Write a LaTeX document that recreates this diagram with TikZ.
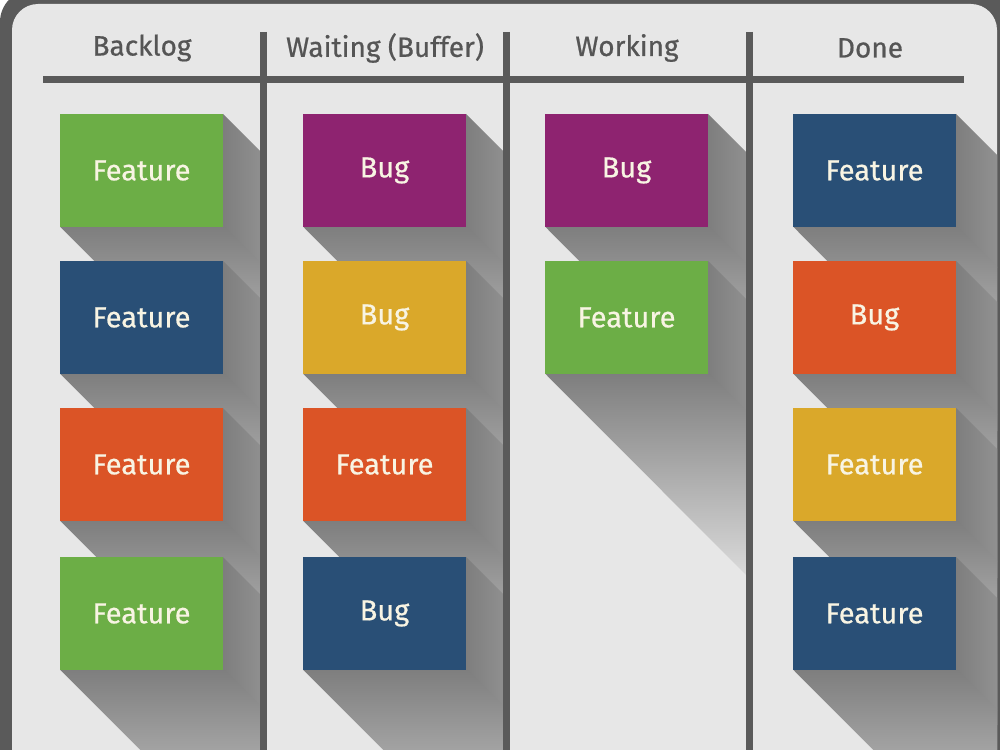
\documentclass[tikz,border=0pt]{standalone}
\usepackage{fontspec}
\setmainfont{Fira Sans}
\newfontfamily\cardfont[FakeBold=0.6]{Fira Sans}
\definecolor{bg}{HTML}{E7E7E7}
\definecolor{framec}{HTML}{5A5A5A}
\definecolor{headc}{HTML}{555555}
\definecolor{shA}{HTML}{7E7E7E}
\definecolor{kgreen}{HTML}{6CAE46}
\definecolor{kblue}{HTML}{294F76}
\definecolor{korange}{HTML}{DB5426}
\definecolor{kpurple}{HTML}{8E2370}
\definecolor{kyellow}{HTML}{DAA82A}
\definecolor{ktext}{HTML}{F8F4E3}
\tikzset{
  card/.style={rectangle, minimum width=163pt, minimum height=113pt, inner sep=0pt,
    text=ktext, font=\cardfont\fontsize{29}{29}\selectfont},
  header/.style={text=headc, font=\cardfont\fontsize{28}{28}\selectfont, inner sep=0pt},
  rule/.style={draw=framec, line width=7pt}
}
\newcommand\kcard[5]{%
  \shade[left color=shA, right color=bg] (#2+163,#3) -- (#2+163+230,#3+230) -- (#2+163+230,#3+113+230) -- (#2+163,#3+113) -- cycle;
  \shade[top color=shA, bottom color=bg] (#2,#3+112.5) -- (#2+164,#3+112.5) -- (#2+164+230,#3+113+230) -- (#2+230,#3+113+230) -- cycle;
  \node[card, fill=#4] (#1) at (#2+81.5,#3+56.5) {#5};
}
\begin{document}
\begin{tikzpicture}[x=1pt,y=-1pt]
\useasboundingbox (0,0) rectangle (1000,749);
\clip (0,0) rectangle (1000,749);
\fill[white] (0,0) rectangle (1000,749);
\fill[framec, rounded corners=32pt] (0,-10) rectangle (1012,800);
\fill[bg, rounded corners=26pt] (12,4) rectangle (997,800);
% column 1
\begin{scope}
\clip (12,83) rectangle (263.5,749);
\kcard{a1}{60}{114}{kgreen}{Feature}
\kcard{a2}{60}{261}{kblue}{Feature}
\kcard{a3}{60}{408}{korange}{Feature}
\kcard{a4}{60}{557}{kgreen}{Feature}
\end{scope}
% column 2
\begin{scope}
\clip (263.5,83) rectangle (506,749);
\kcard{b1}{303}{114}{kpurple}{Bug}
\kcard{b2}{303}{261}{kyellow}{Bug}
\kcard{b3}{303}{408}{korange}{Feature}
\kcard{b4}{303}{557}{kblue}{Bug}
\end{scope}
% column 3
\begin{scope}
\clip (506,83) rectangle (749,749);
\kcard{c1}{545}{114}{kpurple}{Bug}
\kcard{c2}{545}{261}{kgreen}{Feature}
\end{scope}
% column 4
\begin{scope}
\clip (749,83) rectangle (997,749);
\kcard{d1}{793}{114}{kblue}{Feature}
\kcard{d2}{793}{261}{korange}{Bug}
\kcard{d3}{793}{408}{kyellow}{Feature}
\kcard{d4}{793}{557}{kblue}{Feature}
\end{scope}
% rules
\coordinate (hl) at (43,79.5);
\coordinate (hr) at (964,79.5);
\draw[rule] (hl) -- (hr);
\coordinate (s1t) at (263.5,32); \coordinate (s1b) at (263.5,760);
\coordinate (s2t) at (506,32);   \coordinate (s2b) at (506,760);
\coordinate (s3t) at (749,32);   \coordinate (s3b) at (749,760);
\draw[rule] (s1t) -- (s1b);
\draw[rule] (s2t) -- (s2b);
\draw[rule] (s3t) -- (s3b);
% headers
\node[header] (h1) at (142,48) {Backlog};
\node[header] (h2) at (385,48) {Waiting (Buffer)};
\node[header] (h3) at (627,48) {Working};
\node[header] (h4) at (870,48) {Done};
\end{tikzpicture}
\end{document}
